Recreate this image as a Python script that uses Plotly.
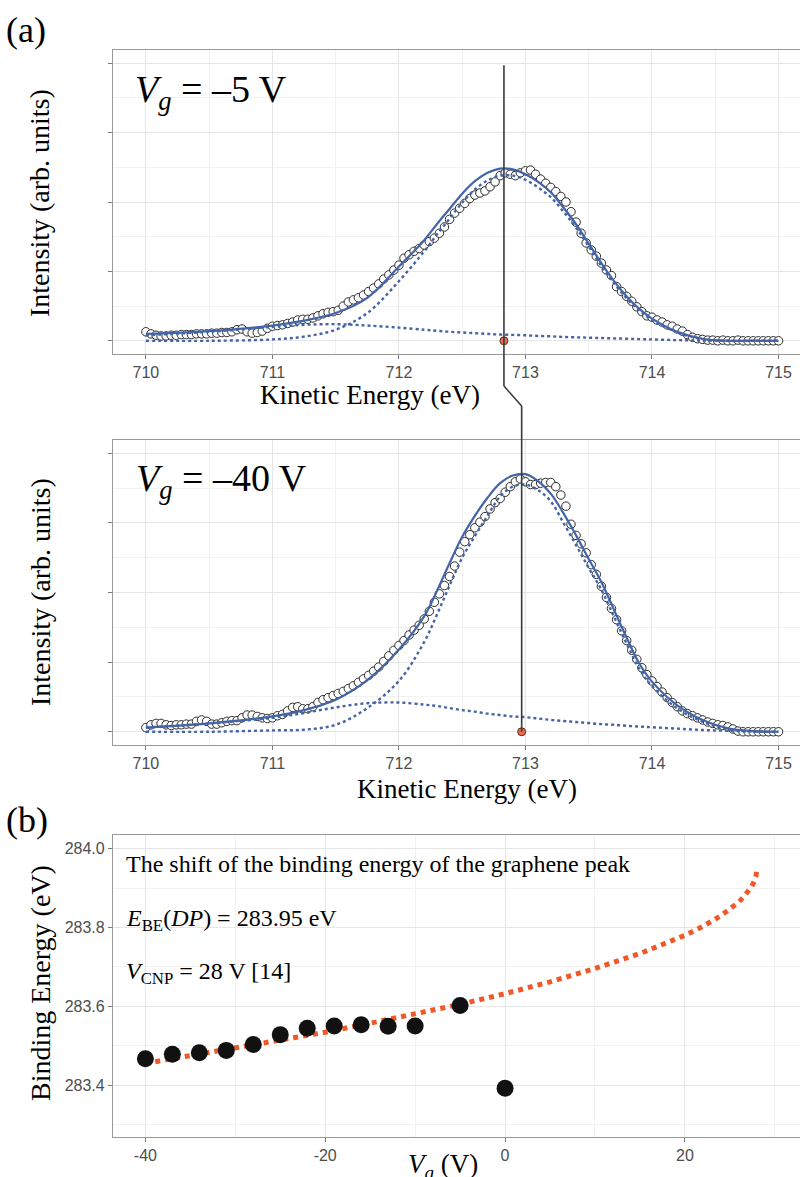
import plotly.graph_objects as go

# ---------------- data: panel (a) spectra ----------------
energy = [710.00, 710.04, 710.08, 710.12, 710.16, 710.20, 710.24, 710.28, 710.32, 710.36,
          710.40, 710.44, 710.48, 710.52, 710.56, 710.60, 710.64, 710.68, 710.72, 710.76,
          710.80, 710.84, 710.88, 710.92, 710.96, 711.00, 711.04, 711.08, 711.12, 711.16,
          711.20, 711.24, 711.28, 711.32, 711.36, 711.40, 711.44, 711.48, 711.52, 711.56,
          711.60, 711.64, 711.68, 711.72, 711.76, 711.80, 711.84, 711.88, 711.92, 711.96,
          712.00, 712.04, 712.08, 712.12, 712.16, 712.20, 712.24, 712.28, 712.32, 712.36,
          712.40, 712.44, 712.48, 712.52, 712.56, 712.60, 712.64, 712.68, 712.72, 712.76,
          712.80, 712.84, 712.88, 712.92, 712.96, 713.00, 713.04, 713.08, 713.12, 713.16,
          713.20, 713.24, 713.28, 713.32, 713.36, 713.40, 713.44, 713.48, 713.52, 713.56,
          713.60, 713.64, 713.68, 713.72, 713.76, 713.80, 713.84, 713.88, 713.92, 713.96,
          714.00, 714.04, 714.08, 714.12, 714.16, 714.20, 714.24, 714.28, 714.32, 714.36,
          714.40, 714.44, 714.48, 714.52, 714.56, 714.60, 714.64, 714.68, 714.72, 714.76,
          714.80, 714.84, 714.88, 714.92, 714.96, 715.00]

counts_m5 = [0.13, 0.10, 0.08, 0.07, 0.07, 0.08, 0.08, 0.09, 0.09, 0.09,
             0.10, 0.10, 0.10, 0.11, 0.11, 0.12, 0.12, 0.13, 0.16, 0.17,
             0.13, 0.11, 0.12, 0.14, 0.18, 0.21, 0.22, 0.23, 0.25, 0.27,
             0.30, 0.31, 0.31, 0.33, 0.36, 0.39, 0.41, 0.42, 0.44, 0.50,
             0.56, 0.59, 0.62, 0.66, 0.71, 0.76, 0.82, 0.89, 0.95, 1.02,
             1.09, 1.19, 1.24, 1.29, 1.33, 1.38, 1.43, 1.48, 1.55, 1.64,
             1.75, 1.84, 1.91, 1.98, 2.05, 2.10, 2.13, 2.16, 2.22, 2.29,
             2.38, 2.42, 2.40, 2.38, 2.42, 2.45, 2.46, 2.40, 2.33, 2.27,
             2.21, 2.15, 2.08, 2.00, 1.86, 1.71, 1.55, 1.41, 1.31, 1.22,
             1.12, 1.02, 0.94, 0.78, 0.71, 0.64, 0.57, 0.49, 0.42, 0.36,
             0.34, 0.30, 0.27, 0.23, 0.21, 0.17, 0.14, 0.09, 0.05, 0.03,
             0.02, 0.01, 0.01, 0.00, 0.01, 0.00, 0.00, 0.01, 0.00, 0.00,
             0.00, 0.00, 0.00, 0.00, 0.00, 0.00]

counts_m40 = [0.06, 0.10, 0.12, 0.12, 0.10, 0.09, 0.10, 0.10, 0.11, 0.11,
              0.15, 0.17, 0.15, 0.11, 0.11, 0.13, 0.15, 0.16, 0.16, 0.20,
              0.24, 0.24, 0.22, 0.20, 0.19, 0.20, 0.23, 0.25, 0.30, 0.35,
              0.36, 0.33, 0.33, 0.36, 0.42, 0.46, 0.49, 0.52, 0.55, 0.58,
              0.62, 0.66, 0.71, 0.76, 0.81, 0.87, 0.93, 1.01, 1.09, 1.17,
              1.24, 1.31, 1.39, 1.46, 1.53, 1.62, 1.73, 1.86, 1.98, 2.10,
              2.23, 2.38, 2.58, 2.73, 2.83, 2.93, 3.01, 3.09, 3.20, 3.29,
              3.35, 3.44, 3.52, 3.59, 3.63, 3.59, 3.55, 3.55, 3.57, 3.58,
              3.58, 3.52, 3.40, 3.24, 2.98, 2.82, 2.70, 2.57, 2.40, 2.26,
              2.09, 1.93, 1.77, 1.61, 1.45, 1.31, 1.17, 1.04, 0.92, 0.82,
              0.73, 0.65, 0.57, 0.49, 0.42, 0.36, 0.30, 0.26, 0.23, 0.20,
              0.17, 0.14, 0.12, 0.10, 0.09, 0.07, 0.04, 0.01, 0.00, 0.00,
              0.00, 0.00, 0.00, 0.00, 0.00, 0.00]

fit_energy = [710.0, 710.5, 711.0, 711.25, 711.5, 711.75, 712.0, 712.2, 712.3, 712.4,
              712.5, 712.6, 712.7, 712.8, 712.9, 713.0, 713.1, 713.2, 713.3, 713.4,
              713.5, 713.6, 713.7, 713.8, 713.9, 714.0, 714.2, 714.4, 714.6, 714.8, 715.0]

fit_sum_m5 = [0.10, 0.14, 0.22, 0.29, 0.40, 0.62, 1.07, 1.45, 1.68, 1.90,
              2.12, 2.30, 2.42, 2.48, 2.47, 2.40, 2.29, 2.14, 1.92, 1.68,
              1.40, 1.12, 0.86, 0.64, 0.46, 0.32, 0.13, 0.03, 0.00, 0.00, 0.00]
fit_main_m5 = [0.00, 0.00, 0.02, 0.06, 0.16, 0.40, 0.86, 1.29, 1.53, 1.76,
               1.99, 2.18, 2.31, 2.38, 2.38, 2.32, 2.21, 2.07, 1.86, 1.63,
               1.36, 1.08, 0.83, 0.61, 0.44, 0.30, 0.12, 0.025, 0.00, 0.00, 0.00]
fit_broad_m5 = [0.08, 0.13, 0.20, 0.23, 0.24, 0.22, 0.19, 0.16, 0.145, 0.13,
                0.12, 0.11, 0.10, 0.09, 0.085, 0.08, 0.07, 0.065, 0.055, 0.05,
                0.045, 0.04, 0.035, 0.03, 0.025, 0.02, 0.01, 0.005, 0.00, 0.00, 0.00]

fit_sum_m40 = [0.06, 0.12, 0.22, 0.31, 0.46, 0.74, 1.18, 1.66, 2.02, 2.42,
               2.80, 3.10, 3.36, 3.57, 3.68, 3.70, 3.60, 3.42, 3.14, 2.82,
               2.48, 2.15, 1.75, 1.35, 0.98, 0.72, 0.38, 0.17, 0.05, 0.01, 0.00]
fit_main_m40 = [0.00, 0.00, 0.02, 0.03, 0.10, 0.34, 0.73, 1.29, 1.68, 2.10,
                2.50, 2.81, 3.10, 3.38, 3.52, 3.55, 3.47, 3.31, 3.00, 2.68,
                2.355, 2.04, 1.65, 1.265, 0.905, 0.655, 0.335, 0.145, 0.035, 0.005, 0.00]
fit_broad_m40 = [0.06, 0.12, 0.20, 0.27, 0.35, 0.41, 0.42, 0.39, 0.37, 0.34,
                 0.31, 0.29, 0.26, 0.24, 0.22, 0.21, 0.19, 0.17, 0.155, 0.14,
                 0.125, 0.11, 0.10, 0.085, 0.075, 0.065, 0.045, 0.025, 0.015, 0.005, 0.00]

peak_positions = [712.83, 712.97]     # marked peak (red dots) for Vg = -5 V, -40 V
marker_line_top = 3.97                # top of the vertical guide line (intensity units)

# ---------------- data: panel (b) ----------------
vg = [-40, -37, -34, -31, -28, -25, -22, -19, -16, -13, -10, -5, 0]
be = [283.467, 283.478, 283.482, 283.488, 283.503, 283.528, 283.544, 283.550,
      283.553, 283.549, 283.550, 283.602, 283.392]

model_vg = [-40, -35, -30, -25, -20, -15, -10, -5, 0, 5, 10, 15, 20, 22, 24, 25,
            26, 26.5, 27, 27.4, 27.7, 27.9, 28]
model_be = [283.455, 283.474, 283.493, 283.513, 283.534, 283.557, 283.580, 283.605,
            283.632, 283.662, 283.696, 283.734, 283.780, 283.803, 283.830, 283.846,
            283.865, 283.877, 283.890, 283.903, 283.917, 283.930, 283.948]

# ---------------- layout helpers ----------------
W, H = 800, 1177
def px_x(px):
    return px / W
def px_y(py):
    return 1 - py / H

dom_x = [px_x(113), 1.0]
dom_a1 = [px_y(354), px_y(50)]
dom_a2 = [px_y(745), px_y(440)]
dom_b = [px_y(1137), px_y(835)]
rng_e = [709.74, 715.17]
rng_i = [-0.19, 4.19]
rng_vg = [-43.6, 32.8]
rng_be = [283.268, 284.035]

def data_to_paper(v, dom, rng):
    return dom[0] + (v - rng[0]) / (rng[1] - rng[0]) * (dom[1] - dom[0])

SERIF = "Liberation Serif, Times New Roman, serif"
SANS = "Liberation Sans, Arial, sans-serif"
BLUE = "#4464A8"
GRID = "#E6E6E6"
GRID_MINOR = "#F2F2F2"
AXIS = "#999999"

fig = go.Figure()

def add_spectrum(xa, ya, counts, fsum, fmain, fbroad, peak):
    fig.add_trace(go.Scatter(x=energy, y=counts, mode="markers", xaxis=xa, yaxis=ya,
                             marker=dict(symbol="circle", size=8.5, color="white",
                                         line=dict(color="#2b2b2b", width=1)),
                             showlegend=False))
    fig.add_trace(go.Scatter(x=fit_energy, y=fsum, mode="lines", xaxis=xa, yaxis=ya,
                             line=dict(color=BLUE, width=2.2, shape="spline"), showlegend=False))
    fig.add_trace(go.Scatter(x=fit_energy, y=fmain, mode="lines", xaxis=xa, yaxis=ya,
                             line=dict(color=BLUE, width=2.4, dash="dot", shape="spline"),
                             showlegend=False))
    fig.add_trace(go.Scatter(x=fit_energy, y=fbroad, mode="lines", xaxis=xa, yaxis=ya,
                             line=dict(color=BLUE, width=2.4, dash="dot", shape="spline"),
                             showlegend=False))
    fig.add_trace(go.Scatter(x=[peak], y=[0], mode="markers", xaxis=xa, yaxis=ya,
                             marker=dict(size=8, color="#EE6A50", line=dict(color="#5a2a20", width=1)),
                             showlegend=False))

add_spectrum("x", "y", counts_m5, fit_sum_m5, fit_main_m5, fit_broad_m5, peak_positions[0])
add_spectrum("x2", "y2", counts_m40, fit_sum_m40, fit_main_m40, fit_broad_m40, peak_positions[1])

fig.add_trace(go.Scatter(x=model_vg, y=model_be, mode="lines", xaxis="x3", yaxis="y3",
                         line=dict(color="#F0582A", width=5, dash="dot"), showlegend=False))
fig.add_trace(go.Scatter(x=vg, y=be, mode="markers", xaxis="x3", yaxis="y3",
                         marker=dict(size=17, color="#111111"), showlegend=False))

common_axis = dict(showline=True, linecolor=AXIS, linewidth=1.2, ticks="outside",
                   ticklen=4, tickcolor="#7a7a7a", tickwidth=1, showgrid=True,
                   gridcolor=GRID, gridwidth=1.2, zeroline=False,
                   tickfont=dict(family=SANS, size=16, color="#4D4D4D"))

spec_x = dict(common_axis, range=rng_e, tickvals=[710, 711, 712, 713, 714, 715],
              mirror=True, domain=dom_x,
              minor=dict(dtick=0.5, tick0=709.5, showgrid=True, gridcolor=GRID_MINOR, gridwidth=0.8))
spec_y = dict(common_axis, range=rng_i, tickvals=[0, 1, 2, 3, 4], showticklabels=False,
              minor=dict(dtick=0.5, tick0=0.5, showgrid=True, gridcolor=GRID_MINOR, gridwidth=0.8))

fig.update_layout(
    width=W, height=H, margin=dict(l=0, r=0, t=0, b=0),
    paper_bgcolor="white", plot_bgcolor="white",
    xaxis=dict(spec_x, anchor="y"),
    yaxis=dict(spec_y, anchor="x", domain=dom_a1),
    xaxis2=dict(spec_x, anchor="y2"),
    yaxis2=dict(spec_y, anchor="x2", domain=dom_a2),
    xaxis3=dict(common_axis, anchor="y3", domain=dom_x, range=rng_vg, mirror=True,
                tickvals=[-40, -20, 0, 20], ticktext=["-40", "-20", "0", "20"],
                minor=dict(dtick=10, tick0=-30, showgrid=True, gridcolor=GRID_MINOR, gridwidth=0.8)),
    yaxis3=dict(common_axis, anchor="x3", domain=dom_b, range=rng_be,
                tickvals=[283.4, 283.6, 283.8, 284.0], ticktext=["283.4", "283.6", "283.8", "284.0"],
                minor=dict(dtick=0.2, tick0=283.3, showgrid=True, gridcolor=GRID_MINOR, gridwidth=0.8)),
)

# guide line linking the two peak positions
y_top = data_to_paper(marker_line_top, dom_a1, rng_i)
y_dot2 = data_to_paper(0, dom_a2, rng_i)
y_kink1 = px_y(386)
y_kink2 = px_y(406)
line_style = dict(color="#3a3a3a", width=1.6)
fig.add_shape(type="line", xref="x", yref="paper", x0=peak_positions[0], x1=peak_positions[0],
              y0=y_top, y1=y_kink1, line=line_style, layer="above")
fig.add_shape(type="line", xref="x", yref="paper", x0=peak_positions[0], x1=peak_positions[1],
              y0=y_kink1, y1=y_kink2, line=line_style, layer="above")
fig.add_shape(type="line", xref="x", yref="paper", x0=peak_positions[1], x1=peak_positions[1],
              y0=y_kink2, y1=y_dot2, line=line_style, layer="above")

def ann(text, x, y, size, xanchor="left", yanchor="middle", angle=0):
    fig.add_annotation(text=text, x=x, y=y, xref="paper", yref="paper", showarrow=False,
                       xanchor=xanchor, yanchor=yanchor, textangle=angle,
                       font=dict(family=SERIF, size=size, color="black"))

ann("(a)", px_x(4), px_y(30), 36)
ann("(b)", px_x(4), px_y(820), 36)
ann("<i>V<sub>g</sub></i> = –5 V", px_x(133), px_y(92), 38)
ann("<i>V<sub>g</sub></i> = –40 V", px_x(134), px_y(481), 38)
ann("Intensity (arb. units)", px_x(40), px_y(203), 28, xanchor="center", angle=-90)
ann("Intensity (arb. units)", px_x(40), px_y(592), 28, xanchor="center", angle=-90)
ann("Kinetic Energy (eV)", px_x(370), px_y(395), 27, xanchor="center")
ann("Kinetic Energy (eV)", px_x(467), px_y(789), 27, xanchor="center")
ann("Binding Energy (eV)", px_x(40), px_y(983), 28, xanchor="center", angle=-90)
ann("<i>V<sub>g</sub></i> (V)", px_x(443), px_y(1166), 27, xanchor="center")
ann("The shift of the binding energy of the graphene peak", px_x(124), px_y(864), 24)
ann("<i>E</i><sub>BE</sub>(<i>DP</i>) = 283.95 eV", px_x(124), px_y(920), 24)
ann("<i>V</i><sub>CNP</sub> = 28 V [14]", px_x(124), px_y(973), 24)

fig.write_html("out.html", config={"displayModeBar": False},
               post_script="document.body.style.margin='0';document.body.style.padding='0';"
                           "document.documentElement.style.overflow='hidden';")
